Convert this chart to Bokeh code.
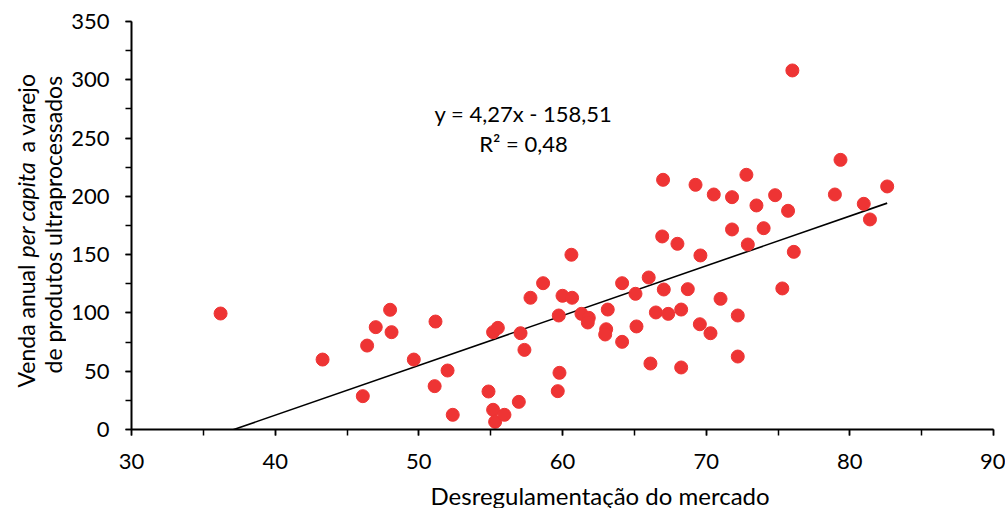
from bokeh.plotting import figure
from bokeh.layouts import row
from bokeh.models import Range1d, Label, FixedTicker, Title
from bokeh.core.properties import value
from bokeh.embed import file_html
from bokeh.resources import INLINE
import math

# data: market deregulation (x) vs annual per capita retail sales of ultra-processed products (y)
desregulamentacao = [36.2, 43.3, 46.1, 46.4, 47.0, 48.0, 48.1, 49.65, 51.1, 51.16,
                     52.0, 52.36, 54.85, 55.17, 55.31, 55.96, 56.96, 55.17, 55.5, 57.08,
                     57.35, 57.77, 58.65, 59.74, 59.79, 59.67, 60.0, 60.67, 60.62, 61.32,
                     61.83, 61.76, 63.15, 63.04, 62.97, 64.15, 64.15, 65.08, 65.15, 66.12,
                     66.0, 66.94, 67.05, 66.5, 67.36, 68.0, 68.26, 68.26, 68.72, 69.6,
                     69.56, 76.0, 79.35, 82.6, 78.96, 80.97, 81.4, 72.8, 67.0, 69.26,
                     70.53, 71.8, 74.8, 73.5, 75.7, 71.8, 74.0, 72.9, 76.1, 71.0,
                     75.3, 72.2, 70.3, 72.2]
venda = [99.5, 60, 28.6, 72, 87.8, 102.7, 83.5, 60, 37.2, 92.6,
         50.6, 12.6, 32.6, 16.9, 6.6, 12.6, 23.7, 83.5, 87.2, 82.6,
         68.3, 113, 125.5, 97.8, 48.6, 32.9, 114.7, 113, 149.9, 99.2,
         95.8, 91.8, 102.9, 86, 81.5, 125.5, 75.2, 116.4, 88.4, 56.6,
         130.4, 165.6, 120.1, 100.4, 99.2, 159.3, 102.9, 53.2, 120.4, 149.3,
         90.3, 308, 231.3, 208.5, 201.6, 193.6, 180.2, 218.5, 214.2, 209.9,
         201.6, 199.3, 201, 192.2, 187.6, 171.6, 172.7, 158.7, 152.4, 112.1,
         121, 97.8, 82.6, 62.6]
slope = 4.27
intercept = -158.51
x_ticks = [30, 40, 50, 60, 70, 80, 90]
y_ticks = [0, 50, 100, 150, 200, 250, 300, 350]
equation_text = "y = 4,27x - 158,51"
r2_text = "R² = 0,48"
y_title_line1 = ["Venda anual", "per capita", "a varejo"]
y_title_line2 = "de produtos ultraprocessados"
x_title = "Desregulamentação do mercado"

FONT = "Lato"
RED = "#EE3434"
H = 508
TOP, FH = 21, 408
BOTTOM = H - TOP - FH

# ---- left strip holding the two-line y-axis title (with italic "per capita")
LW = 66
t = figure(frame_width=LW, frame_height=FH, output_backend="svg", toolbar_location=None,
           x_range=Range1d(0, LW), y_range=Range1d(H - TOP - FH, H - TOP),
           min_border_left=0, min_border_right=0,
           min_border_top=TOP, min_border_bottom=BOTTOM)
t.axis.visible = False
t.grid.visible = False
t.outline_line_color = None

def ylab(text, x, y_page, style="normal"):
    # y given in page pixels (top-down); data y = H - page y
    t.text(x=[x], y=[H - y_page], text=[text], angle=math.pi / 2,
           text_align="left", text_baseline="middle",
           text_font=value(FONT), text_font_size="23px",
           text_font_style=style, text_color="black")

ylab(y_title_line1[0], 25, 387)
ylab(y_title_line1[1], 25, 257, "italic")
ylab(y_title_line1[2], 25, 152)
ylab(y_title_line2, 52, 373)

# ---- main scatter
p = figure(frame_width=862, frame_height=FH, output_backend="svg",
           toolbar_location=None, x_range=Range1d(30, 90), y_range=Range1d(0, 350),
           min_border_left=131 - LW, min_border_top=TOP, min_border_right=12,
           min_border_bottom=BOTTOM)
p.outline_line_color = None
p.grid.visible = False

xs = [min(desregulamentacao), max(desregulamentacao)]
p.line(xs, [slope * v + intercept for v in xs], line_color="black", line_width=1.6)

p.scatter(desregulamentacao, venda, size=13, fill_color=RED, line_color=RED)

for ax in (p.xaxis[0], p.yaxis[0]):
    ax.axis_line_color = "black"
    ax.axis_line_width = 2
    ax.major_tick_line_color = "black"
    ax.minor_tick_line_color = "black"
    ax.major_tick_line_width = 1.5
    ax.minor_tick_line_width = 1.5
    ax.major_tick_in = 0
    ax.major_tick_out = 6
    ax.minor_tick_in = 0
    ax.minor_tick_out = 6
    ax.major_label_text_font = FONT
    ax.major_label_text_font_size = "22px"
    ax.major_label_text_color = "black"

p.xaxis[0].ticker = FixedTicker(ticks=x_ticks, minor_ticks=list(range(30, 91, 5)))
p.yaxis[0].ticker = FixedTicker(ticks=y_ticks, minor_ticks=list(range(0, 351, 25)))
p.xaxis[0].major_label_standoff = 18
p.yaxis[0].major_label_standoff = 16

# x-axis title as a Title in the bottom panel (placed right of centre as in the original)
p.add_layout(Title(text=x_title, align="left", offset=299, standoff=14,
                   text_font=FONT, text_font_size="24px", text_font_style="normal",
                   text_color="black"), "below")

p.add_layout(Label(x=392, y=316, x_units="screen", y_units="screen", text=equation_text,
                   text_align="center", text_baseline="middle", text_font=FONT,
                   text_font_size="22px", text_color="black"))
p.add_layout(Label(x=392, y=286, x_units="screen", y_units="screen", text=r2_text,
                   text_align="center", text_baseline="middle", text_font=FONT,
                   text_font_size="22px", text_color="black"))

layout = row(t, p, spacing=0)
open("out.html", "w").write(file_html(layout, INLINE))
